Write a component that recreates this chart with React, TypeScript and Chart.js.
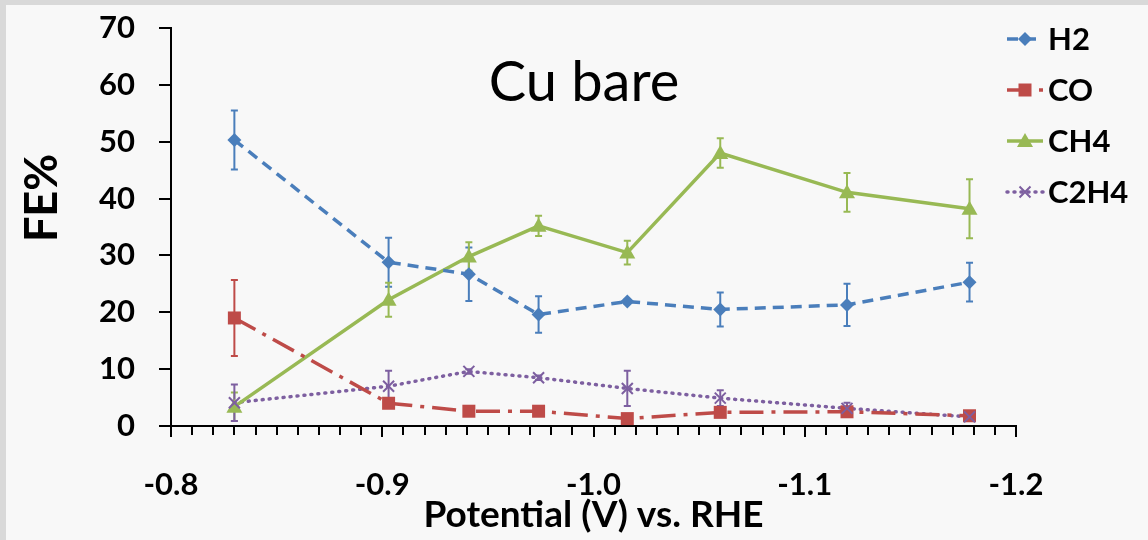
import React, { useEffect, useRef } from "react";
import { Chart, registerables } from "chart.js";

Chart.register(...registerables);

const potentials = [-0.83, -0.903, -0.941, -0.974, -1.016, -1.06, -1.12, -1.178];
const h2 = [50.3, 28.8, 26.7, 19.6, 21.9, 20.5, 21.3, 25.3];
const h2Err = [5.2, 4.3, 4.7, 3.2, 0.4, 3.0, 3.7, 3.4];
const co = [19.0, 4.0, 2.6, 2.6, 1.3, 2.4, 2.5, 1.8];
const coErr = [6.7, 0.6, 0.4, 0.4, 0.4, 0.6, 0.8, 0.4];
const ch4 = [3.4, 22.2, 29.8, 35.2, 30.5, 48.0, 41.1, 38.2];
const ch4Err = [2.5, 3.0, 2.5, 1.8, 2.1, 2.6, 3.4, 5.2];
const c2h4 = [4.1, 7.0, 9.6, 8.5, 6.6, 4.9, 3.1, 1.6];
const c2h4Err = [3.2, 2.7, 0.4, 0.4, 3.1, 1.4, 1.0, 0.4];

const seriesNames = ["H2", "CO", "CH4", "C2H4"];
const chartTitle = "Cu bare";
const xTitle = "Potential (V) vs. RHE";
const yTitle = "FE%";

const COLORS = ["#4a7ebb", "#be4b48", "#98b954", "#7d5fa0"];
const DASHES = [[11, 7], [24, 8, 4, 8], [], [1, 6]];
const MARKERS = ["diamond", "square", "triangle", "x"];
const FONT = "Lato, 'DejaVu Sans', sans-serif";

function drawMarker(ctx, type, x, y, color) {
  ctx.save();
  ctx.setLineDash([]);
  ctx.fillStyle = color;
  ctx.strokeStyle = color;
  ctx.beginPath();
  if (type === "diamond") {
    const r = 7;
    ctx.moveTo(x, y - r);
    ctx.lineTo(x + r, y);
    ctx.lineTo(x, y + r);
    ctx.lineTo(x - r, y);
    ctx.closePath();
    ctx.fill();
  } else if (type === "square") {
    const r = 6.5;
    ctx.rect(x - r, y - r, 2 * r, 2 * r);
    ctx.fill();
  } else if (type === "triangle") {
    const r = 8;
    ctx.moveTo(x, y - r);
    ctx.lineTo(x + r, y + r * 0.75);
    ctx.lineTo(x - r, y + r * 0.75);
    ctx.closePath();
    ctx.fill();
  } else {
    const r = 5.5;
    ctx.lineWidth = 2;
    ctx.moveTo(x - r, y - r);
    ctx.lineTo(x + r, y + r);
    ctx.moveTo(x + r, y - r);
    ctx.lineTo(x - r, y + r);
    ctx.stroke();
  }
  ctx.restore();
}

const values = [h2, co, ch4, c2h4];
const errors = [h2Err, coErr, ch4Err, c2h4Err];

const customPlugin = {
  id: "custom",
  beforeDraw(chart) {
    const ctx = chart.ctx;
    ctx.save();
    ctx.fillStyle = "#d9d9d9";
    ctx.fillRect(0, 0, chart.width, chart.height);
    ctx.fillStyle = "#f8f8f8";
    ctx.fillRect(6, 5, chart.width - 6, chart.height - 5);
    ctx.restore();
  },
  afterDatasetsDraw(chart) {
    const ctx = chart.ctx;
    const xs = chart.scales.x;
    const ys = chart.scales.y;
    ctx.save();
    ctx.setLineDash([]);
    ctx.lineWidth = 2;
    values.forEach((vals, si) => {
      ctx.strokeStyle = COLORS[si];
      vals.forEach((v, i) => {
        const px = xs.getPixelForValue(potentials[i]);
        const top = ys.getPixelForValue(v + errors[si][i]);
        const bot = ys.getPixelForValue(v - errors[si][i]);
        ctx.beginPath();
        ctx.moveTo(px, top);
        ctx.lineTo(px, bot);
        ctx.moveTo(px - 3.5, top);
        ctx.lineTo(px + 3.5, top);
        ctx.moveTo(px - 3.5, bot);
        ctx.lineTo(px + 3.5, bot);
        ctx.stroke();
      });
    });
    values.forEach((vals, si) => {
      vals.forEach((v, i) => {
        drawMarker(ctx, MARKERS[si], xs.getPixelForValue(potentials[i]), ys.getPixelForValue(v), COLORS[si]);
      });
    });
    ctx.restore();
  },
  afterDraw(chart) {
    const ctx = chart.ctx;
    const xs = chart.scales.x;
    const ys = chart.scales.y;
    const area = chart.chartArea;
    ctx.save();
    ctx.strokeStyle = "#000";
    ctx.lineWidth = 2;
    ctx.setLineDash([]);
    for (let k = 0; k <= 40; k++) {
      const v = -0.8 - k * 0.01;
      const px = Math.round(xs.getPixelForValue(v));
      const major = k % 10 === 0;
      ctx.beginPath();
      ctx.moveTo(px, area.bottom);
      ctx.lineTo(px, area.bottom + (major ? 11 : 9));
      ctx.stroke();
    }
    for (let k = 0; k <= 7; k++) {
      const py = Math.round(ys.getPixelForValue(k * 10));
      ctx.beginPath();
      ctx.moveTo(area.left - 12, py);
      ctx.lineTo(area.left, py);
      ctx.stroke();
    }
    ctx.fillStyle = "#000";
    ctx.textAlign = "center";
    ctx.textBaseline = "middle";
    ctx.font = `bold 37px ${FONT}`;
    ctx.fillText(xTitle, (area.left + area.right) / 2, 515);
    ctx.save();
    ctx.translate(42, 198);
    ctx.rotate(-Math.PI / 2);
    ctx.font = `bold 45px ${FONT}`;
    ctx.fillText(yTitle, 0, 0);
    ctx.restore();
    ctx.textBaseline = "alphabetic";
    ctx.font = `normal 56px ${FONT}`;
    ctx.fillText(chartTitle, 584, 101);
    ctx.textAlign = "left";
    ctx.textBaseline = "middle";
    ctx.font = `bold 31px ${FONT}`;
    seriesNames.forEach((name, i) => {
      const y = 39 + 51 * i;
      ctx.save();
      ctx.strokeStyle = COLORS[i];
      ctx.lineWidth = 3.5;
      ctx.lineCap = i === 3 ? "round" : "butt";
      ctx.setLineDash(DASHES[i]);
      ctx.beginPath();
      ctx.moveTo(1007, y);
      ctx.lineTo(1043, y);
      ctx.stroke();
      ctx.restore();
      drawMarker(ctx, MARKERS[i], 1025, y, COLORS[i]);
      ctx.fillStyle = "#000";
      ctx.fillText(name, 1048, y + 1);
    });
    ctx.restore();
  },
};

export default function App() {
  const ref = useRef(null);
  useEffect(() => {
    const datasets = values.map((vals, si) => ({
      label: seriesNames[si],
      data: vals.map((v, i) => ({ x: potentials[i], y: v })),
      borderColor: COLORS[si],
      backgroundColor: COLORS[si],
      borderWidth: 3.5,
      borderDash: DASHES[si],
      borderCapStyle: si === 3 ? "round" : "butt",
      pointRadius: 0,
      tension: 0,
      fill: false,
      clip: false,
    }));
    const chart = new Chart(ref.current, {
      type: "line",
      data: { datasets },
      plugins: [customPlugin],
      options: {
        animation: false,
        responsive: false,
        devicePixelRatio: 1,
        layout: { padding: { left: 0, top: 28, right: 132, bottom: 0 } },
        plugins: { legend: { display: false }, tooltip: { enabled: false }, title: { display: false } },
        scales: {
          x: {
            type: "linear",
            reverse: true,
            min: -1.2,
            max: -0.8,
            afterFit: (s) => {
              s.height = 114;
              s.paddingLeft = 0;
              s.paddingRight = 0;
            },
            grid: { display: false, drawTicks: false },
            border: { display: true, color: "#000", width: 2 },
            ticks: {
              stepSize: 0.1,
              padding: 40,
              color: "#000",
              font: { family: FONT, size: 31, weight: "bold" },
              callback: (v) => Number(v).toFixed(1),
              maxRotation: 0,
            },
          },
          y: {
            min: 0,
            max: 70,
            afterFit: (s) => {
              s.width = 171;
              s.paddingTop = 0;
              s.paddingBottom = 0;
            },
            grid: { display: false, drawTicks: false },
            border: { display: true, color: "#000", width: 2 },
            ticks: {
              stepSize: 10,
              padding: 36,
              color: "#000",
              font: { family: FONT, size: 31, weight: "bold" },
            },
          },
        },
      },
    });
    return () => chart.destroy();
  }, []);
  return (
    <div style={{ position: "fixed", left: 0, top: 0, width: 1148, height: 540 }}>
      <canvas ref={ref} width={1148} height={540} style={{ display: "block" }} />
    </div>
  );
}
